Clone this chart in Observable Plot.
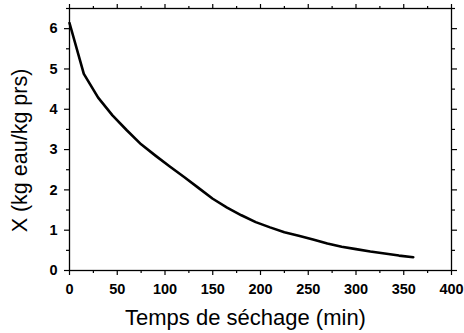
<!DOCTYPE html>
<html>
<head>
<meta charset="utf-8">
<script src="https://cdn.jsdelivr.net/npm/d3@7"></script>
<script src="https://cdn.jsdelivr.net/npm/@observablehq/plot@0.6"></script>
<style>
  html, body { margin: 0; padding: 0; background: #fff; }
  #chart svg { display: block; }
</style>
</head>
<body>
<div id="chart"></div>
<script>
const time = [0, 15, 30, 45, 60, 75, 90, 105, 120, 135, 150, 165, 180, 195, 210, 225, 240, 255, 270, 285, 300, 315, 330, 345, 360];
const moisture = [6.14, 4.88, 4.29, 3.85, 3.48, 3.13, 2.85, 2.58, 2.32, 2.05, 1.78, 1.56, 1.37, 1.20, 1.07, 0.95, 0.86, 0.77, 0.67, 0.59, 0.53, 0.47, 0.42, 0.37, 0.33];
const xMajor = [0, 50, 100, 150, 200, 250, 300, 350, 400];
const xMinor = [25, 75, 125, 175, 225, 275, 325, 375];
const yMajor = [0, 1, 2, 3, 4, 5, 6];
const yMinor = [0.5, 1.5, 2.5, 3.5, 4.5, 5.5, 6.5];
const xLabel = "Temps de séchage (min)";
const yLabel = "X (kg eau/kg prs)";

const data = time.map((t, i) => ({t, x: moisture[i]}));
const blank = () => "";

const chart = Plot.plot({
  width: 464,
  height: 333,
  marginLeft: 69,
  marginRight: 13,
  marginTop: 8,
  marginBottom: 63,
  style: {fontFamily: "'Liberation Sans', Arial, sans-serif", color: "#000", background: "#fff"},
  x: {domain: [0, 400]},
  y: {domain: [0, 6.5]},
  marks: [
    Plot.axisX({ticks: xMajor, tickSize: 5, tickPadding: 8, tickFormat: d3.format("d"), fontSize: 14.5, fontWeight: "bold", label: null, strokeWidth: 1.2}),
    Plot.axisX({ticks: xMinor, tickSize: 3, tickFormat: blank, label: null, strokeWidth: 1.2}),
    Plot.axisX({anchor: "top", ticks: xMajor, tickSize: 5, tickFormat: blank, label: null, strokeWidth: 1.2}),
    Plot.axisX({anchor: "top", ticks: xMinor, tickSize: 3, tickFormat: blank, label: null, strokeWidth: 1.2}),
    Plot.axisY({ticks: yMajor, tickSize: 5, tickPadding: 7, tickFormat: d3.format("d"), fontSize: 14.5, fontWeight: "bold", label: null, strokeWidth: 1.2}),
    Plot.axisY({ticks: yMinor, tickSize: 3, tickFormat: blank, label: null, strokeWidth: 1.2}),
    Plot.axisY({anchor: "right", ticks: yMajor, tickSize: 5, tickFormat: blank, label: null, strokeWidth: 1.2}),
    Plot.axisY({anchor: "right", ticks: yMinor, tickSize: 3, tickFormat: blank, label: null, strokeWidth: 1.2}),
    Plot.frame({stroke: "#000", strokeWidth: 1.3}),
    Plot.line(data, {x: "t", y: "x", stroke: "#000", strokeWidth: 2.6, curve: "linear"}),
    Plot.text([xLabel], {frameAnchor: "bottom", textAnchor: "middle", lineAnchor: "bottom", dx: -15, dy: 54, fontSize: 22, fill: "#000"}),
    Plot.text([yLabel], {frameAnchor: "left", textAnchor: "middle", lineAnchor: "middle", rotate: -90, dx: -49, dy: 11, fontSize: 21.5, fill: "#000"})
  ]
});
document.getElementById("chart").appendChild(chart);
</script>
</body>
</html>
